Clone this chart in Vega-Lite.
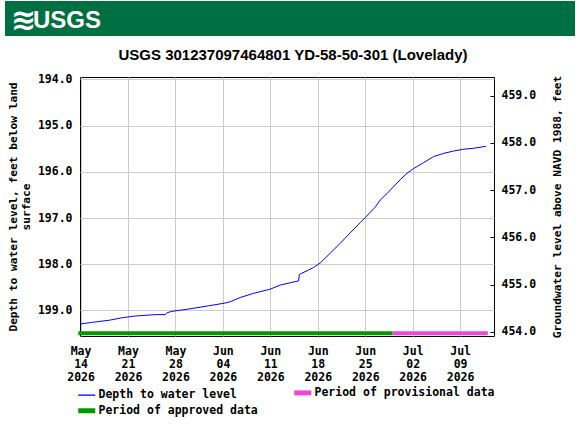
{
  "$schema": "https://vega.github.io/schema/vega-lite/v6.json",
  "background": "white",
  "padding": {"left": 5, "top": 1, "right": 0, "bottom": 0},
  "bounds": "flush",
  "spacing": 41,
  "datasets": {
    "levels": [
      {"date": "2026-05-14T00:00", "depth": 199.29, "series": "Depth to water level"},
      {"date": "2026-05-15T14:00", "depth": 199.26, "series": "Depth to water level"},
      {"date": "2026-05-16T14:00", "depth": 199.24, "series": "Depth to water level"},
      {"date": "2026-05-18T07:00", "depth": 199.21, "series": "Depth to water level"},
      {"date": "2026-05-20T00:00", "depth": 199.16, "series": "Depth to water level"},
      {"date": "2026-05-22T00:00", "depth": 199.12, "series": "Depth to water level"},
      {"date": "2026-05-25T00:00", "depth": 199.09, "series": "Depth to water level"},
      {"date": "2026-05-26T12:00", "depth": 199.09, "series": "Depth to water level"},
      {"date": "2026-05-26T18:00", "depth": 199.05, "series": "Depth to water level"},
      {"date": "2026-05-27T10:00", "depth": 199.02, "series": "Depth to water level"},
      {"date": "2026-05-29T21:00", "depth": 198.97, "series": "Depth to water level"},
      {"date": "2026-06-01T20:00", "depth": 198.90, "series": "Depth to water level"},
      {"date": "2026-06-04T07:00", "depth": 198.84, "series": "Depth to water level"},
      {"date": "2026-06-05T02:00", "depth": 198.81, "series": "Depth to water level"},
      {"date": "2026-06-06T13:00", "depth": 198.72, "series": "Depth to water level"},
      {"date": "2026-06-08T12:00", "depth": 198.63, "series": "Depth to water level"},
      {"date": "2026-06-10T23:00", "depth": 198.54, "series": "Depth to water level"},
      {"date": "2026-06-12T11:00", "depth": 198.45, "series": "Depth to water level"},
      {"date": "2026-06-13T22:00", "depth": 198.40, "series": "Depth to water level"},
      {"date": "2026-06-15T04:00", "depth": 198.36, "series": "Depth to water level"},
      {"date": "2026-06-15T07:00", "depth": 198.22, "series": "Depth to water level"},
      {"date": "2026-06-15T10:00", "depth": 198.21, "series": "Depth to water level"},
      {"date": "2026-06-16T10:00", "depth": 198.14, "series": "Depth to water level"},
      {"date": "2026-06-17T09:00", "depth": 198.07, "series": "Depth to water level"},
      {"date": "2026-06-18T09:00", "depth": 197.97, "series": "Depth to water level"},
      {"date": "2026-06-19T20:00", "depth": 197.76, "series": "Depth to water level"},
      {"date": "2026-06-21T07:00", "depth": 197.55, "series": "Depth to water level"},
      {"date": "2026-06-22T19:00", "depth": 197.32, "series": "Depth to water level"},
      {"date": "2026-06-24T06:00", "depth": 197.10, "series": "Depth to water level"},
      {"date": "2026-06-25T00:00", "depth": 196.99, "series": "Depth to water level"},
      {"date": "2026-06-26T12:00", "depth": 196.76, "series": "Depth to water level"},
      {"date": "2026-06-27T05:00", "depth": 196.61, "series": "Depth to water level"},
      {"date": "2026-06-28T05:00", "depth": 196.47, "series": "Depth to water level"},
      {"date": "2026-06-30T04:00", "depth": 196.17, "series": "Depth to water level"},
      {"date": "2026-07-01T04:00", "depth": 196.03, "series": "Depth to water level"},
      {"date": "2026-07-02T03:00", "depth": 195.93, "series": "Depth to water level"},
      {"date": "2026-07-03T15:00", "depth": 195.80, "series": "Depth to water level"},
      {"date": "2026-07-05T02:00", "depth": 195.67, "series": "Depth to water level"},
      {"date": "2026-07-06T14:00", "depth": 195.60, "series": "Depth to water level"},
      {"date": "2026-07-08T01:00", "depth": 195.55, "series": "Depth to water level"},
      {"date": "2026-07-09T13:00", "depth": 195.51, "series": "Depth to water level"},
      {"date": "2026-07-11T00:00", "depth": 195.49, "series": "Depth to water level"},
      {"date": "2026-07-12T17:00", "depth": 195.45, "series": "Depth to water level"},
      {"date": "2026-07-12T20:00", "depth": 195.45, "series": "Depth to water level"}
    ],
    "periods": [
      {"series": "Period of approved data", "start": "2026-05-13T16:00", "end": "2026-06-29T01:00"},
      {"series": "Period of provisional data", "start": "2026-06-29T01:00", "end": "2026-07-13T02:00"}
    ]
  },
  "config": {
    "view": {"stroke": null},
    "axis": {
      "labelFont": "DejaVu Sans Mono",
      "labelFontSize": 11.5,
      "labelFontWeight": "bold",
      "labelColor": "#000000",
      "titleFont": "DejaVu Sans Mono",
      "titleFontSize": 11.2,
      "titleFontWeight": "bold",
      "titleColor": "#000000",
      "gridColor": "#cccccc",
      "gridWidth": 1,
      "domain": false,
      "ticks": false
    }
  },
  "vconcat": [
    {
      "width": 570,
      "height": 35,
      "data": {"values": [{"agency": "USGS"}]},
      "view": {"fill": "#006F41", "stroke": null},
      "encoding": {
        "x": {
          "field": "agency",
          "type": "nominal",
          "axis": null,
          "scale": {"type": "point", "align": 0, "padding": 0}
        }
      },
      "layer": [
        {"mark": {"type": "rect", "color": "#006F41"}, "encoding": {"x": null}},
        {
          "mark": {
            "type": "text",
            "text": "≋",
            "align": "left",
            "baseline": "middle",
            "dx": 6,
            "dy": 2,
            "color": "#ffffff",
            "font": "DejaVu Sans",
            "fontSize": 30,
            "fontWeight": "bold"
          }
        },
        {
          "mark": {
            "type": "text",
            "align": "left",
            "baseline": "middle",
            "dx": 28,
            "dy": 2,
            "color": "#ffffff",
            "font": "Liberation Sans",
            "fontSize": 24,
            "fontWeight": "bold"
          },
          "encoding": {"text": {"field": "agency"}}
        }
      ]
    },
    {
      "hconcat": [
        {
          "width": 75,
          "height": 259,
          "view": {"stroke": null},
          "data": {"name": "periods"},
          "mark": {"type": "rule", "opacity": 0},
          "encoding": {
            "y": {
              "datum": 194,
              "type": "quantitative",
              "scale": {"domain": [193.948, 199.552], "reverse": true, "zero": false, "nice": false},
              "axis": {
                "orient": "left",
                "offset": -75,
                "values": [194, 195, 196, 197, 198, 199],
                "format": ".1f",
                "labelPadding": 8,
                "grid": false,
                "title": ["Depth to water level, feet below land", "surface"],
                "titleLineHeight": 12.5,
                "titlePadding": 6
              }
            }
          }
        },
        {
          "width": 414,
          "height": 259,
          "view": {"stroke": "#000000", "strokeWidth": 1},
          "title": {
            "text": "USGS 301237097464801 YD-58-50-301 (Lovelady)",
            "frame": "group",
            "anchor": "middle",
            "dx": 6,
            "dy": 17,
            "offset": 17.5,
            "baseline": "alphabetic",
            "font": "Liberation Sans",
            "fontSize": 15,
            "fontWeight": "bold",
            "color": "#000000"
          },
          "layer": [
            {
              "layer": [
                {
                  "data": {"name": "levels"},
                  "mark": {"type": "line", "strokeWidth": 1},
                  "encoding": {
                    "x": {
                      "field": "date",
                      "type": "temporal",
                      "title": null,
                      "scale": {
                        "domain": [
                          {"year": 2026, "month": 5, "date": 13, "hours": 22},
                          {"year": 2026, "month": 7, "date": 14, "hours": 0}
                        ]
                      },
                      "axis": {
                        "orient": "bottom",
                        "values": [
                          {"year": 2026, "month": 5, "date": 14},
                          {"year": 2026, "month": 5, "date": 21},
                          {"year": 2026, "month": 5, "date": 28},
                          {"year": 2026, "month": 6, "date": 4},
                          {"year": 2026, "month": 6, "date": 11},
                          {"year": 2026, "month": 6, "date": 18},
                          {"year": 2026, "month": 6, "date": 25},
                          {"year": 2026, "month": 7, "date": 2},
                          {"year": 2026, "month": 7, "date": 9}
                        ],
                        "labelExpr": "[timeFormat(datum.value, '%b'), timeFormat(datum.value, '%d'), timeFormat(datum.value, '%Y')]",
                        "labelAlign": "center",
                        "labelBaseline": "top",
                        "labelPadding": 9,
                        "labelLineHeight": 13,
                        "labelFlush": false,
                        "labelOverlap": false,
                        "grid": true
                      }
                    },
                    "y": {
                      "field": "depth",
                      "type": "quantitative",
                      "title": null,
                      "scale": {"domain": [193.948, 199.552], "reverse": true, "zero": false, "nice": false},
                      "axis": {
                        "orient": "left",
                        "values": [194, 195, 196, 197, 198, 199],
                        "labels": false,
                        "grid": true,
                        "title": null
                      }
                    },
                    "color": {
                      "field": "series",
                      "type": "nominal",
                      "scale": {
                        "domain": ["Depth to water level", "Period of provisional data", "Period of approved data"],
                        "range": ["#0000ff", "#f046d8", "#009900"]
                      },
                      "legend": {
                        "orient": "none",
                        "legendX": 76,
                        "legendY": 386,
                        "direction": "horizontal",
                        "title": null,
                        "columns": 2,
                        "columnPadding": 26,
                        "rowPadding": -3,
                        "symbolType": "stroke",
                        "symbolSize": 289,
                        "labelOffset": 6,
                        "labelLimit": 400,
                        "labelFont": "DejaVu Sans Mono",
                        "labelFontSize": 11.5,
                        "labelFontWeight": "bold",
                        "labelColor": "#000000",
                        "encode": {
                          "symbols": {
                            "update": {
                              "strokeWidth": {"signal": "datum.value === 'Depth to water level' ? 1.3 : 5"},
                              "opacity": {"value": 1}
                            }
                          }
                        }
                      }
                    }
                  }
                },
                {
                  "data": {"name": "periods"},
                  "mark": {"type": "rule", "strokeWidth": 4, "clip": false},
                  "encoding": {
                    "x": {"field": "start", "type": "temporal", "title": null},
                    "x2": {"field": "end"},
                    "y": {"datum": 199.49, "type": "quantitative", "title": null},
                    "color": {"field": "series", "type": "nominal"}
                  }
                }
              ]
            },
            {
              "data": {"name": "periods"},
              "mark": {"type": "rule", "opacity": 0},
              "encoding": {
                "y": {
                  "datum": 456,
                  "type": "quantitative",
                  "scale": {"domain": [453.909, 459.396], "zero": false, "nice": false},
                  "axis": {
                    "orient": "right",
                    "values": [454, 455, 456, 457, 458, 459],
                    "format": ".1f",
                    "ticks": true,
                    "tickSize": -4,
                    "tickColor": "#000000",
                    "labelPadding": 11,
                    "grid": false,
                    "title": "Groundwater level above NAVD 1988, feet",
                    "titleAngle": 270,
                    "titleBaseline": "top",
                    "titlePadding": 16
                  }
                }
              }
            }
          ],
          "resolve": {"scale": {"y": "independent"}}
        }
      ],
      "spacing": 0,
      "bounds": "flush"
    }
  ]
}
